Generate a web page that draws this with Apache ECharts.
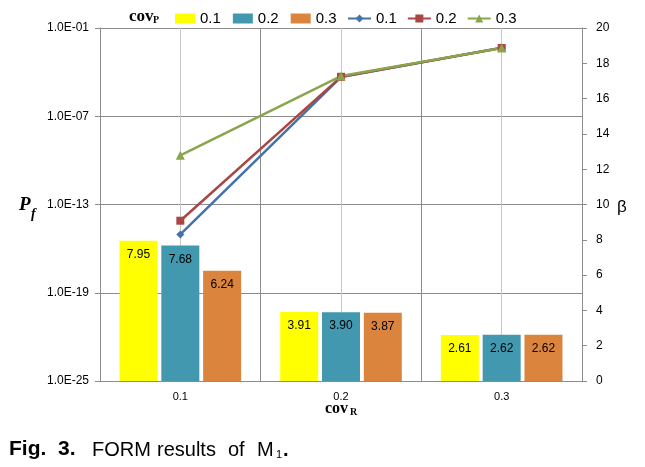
<!DOCTYPE html>
<html><head><meta charset="utf-8">
<script src="https://cdn.jsdelivr.net/npm/echarts@6/dist/echarts.min.js"></script>
<style>html,body{margin:0;padding:0;background:#fff}#c{width:645px;height:467px}</style>
</head><body><div id="c"></div>
<script>
// ---- data ----
const categories = ['0.1', '0.2', '0.3'];          // cov_R
const covPNames = ['0.1', '0.2', '0.3'];           // cov_P
const beta_covP01 = [7.95, 3.91, 2.61];
const beta_covP02 = [7.68, 3.90, 2.62];
const beta_covP03 = [6.24, 3.87, 2.62];
const pf_covP01 = [9.3e-16, 4.6e-5, 4.5e-3];
const pf_covP02 = [7.9e-15, 4.8e-5, 4.4e-3];
const pf_covP03 = [2.2e-10, 5.4e-5, 4.4e-3];
const pfAxisMinExp = -25;   // 1.0E-25
const pfAxisMaxExp = -1;    // 1.0E-01
const pfAxisStepExp = 6;    // one label every 6 decades
const betaAxisMax = 20;
const betaAxisStep = 2;

const barColors = ['#FFFF00', '#4198AF', '#DB843D'];
const lineColors = ['#4572A7', '#AA4643', '#89A54E'];
const lineSymbols = ['diamond', 'rect', 'triangle'];
const lineSymbolSizes = [8, 8, 9];
const betas = [beta_covP01, beta_covP02, beta_covP03];
const pfs = [pf_covP01, pf_covP02, pf_covP03];

const font = "'Liberation Sans', Arial, sans-serif";
const serif = "'Liberation Serif', 'DejaVu Serif', serif";
const axisGrey = '#8c8c8c';

// decade axis: value = log10(Pf) - minExp  (0 .. 24)
const toAxis = v => Math.log10(v) - pfAxisMinExp;
function expFmt(av) {
  const e = Math.round(av + pfAxisMinExp);
  const a = Math.abs(e);
  return '1.0E' + (e < 0 ? '-' : '+') + (a < 10 ? '0' + a : a);
}

const chart = echarts.init(document.getElementById('c'), null, {renderer: 'canvas'});

const series = [];
// light vertical lines at category centres (behind bars)
series.push({
  type: 'line', name: '__centre', xAxisIndex: 0, yAxisIndex: 1, data: [], silent: true,
  markLine: {
    silent: true, symbol: 'none', z: 1, animation: false,
    label: {show: false},
    lineStyle: {color: '#c9c9c9', type: 'solid', width: 1},
    data: categories.map(c => ({xAxis: c}))
  }
});
covPNames.forEach((n, i) => {
  series.push({
    type: 'bar', name: n, xAxisIndex: 0, yAxisIndex: 1, z: 2,
    data: betas[i], barWidth: 38, barGap: '10%',
    itemStyle: {color: barColors[i]},
    label: {
      show: true, position: 'insideTop', distance: 8, color: '#000',
      fontFamily: font, fontSize: 12,
      formatter: p => p.value.toFixed(2)
    }
  });
});
covPNames.forEach((n, i) => {
  series.push({
    type: 'line', name: 'L' + n, xAxisIndex: 0, yAxisIndex: 0, z: 4,
    data: pfs[i].map(toAxis), symbol: lineSymbols[i], symbolSize: lineSymbolSizes[i],
    showSymbol: true,
    lineStyle: {color: lineColors[i], width: 2.5},
    itemStyle: {color: lineColors[i]}
  });
});

chart.setOption({
  animation: false,
  backgroundColor: '#fff',
  grid: {left: 100, right: 63, top: 28, bottom: 86},
  legend: [
    {
      data: covPNames, left: 175, top: 11, padding: 0, itemWidth: 20, itemHeight: 10, itemGap: 12,
      icon: 'rect', textStyle: {fontFamily: font, fontSize: 15, color: '#000'}
    },
    {
      data: covPNames.map(n => 'L' + n), left: 347, top: 11, padding: 0, itemWidth: 23, itemHeight: 10, itemGap: 10,
      formatter: name => name.replace(/^L/, ''),
      textStyle: {fontFamily: font, fontSize: 15, color: '#000'}
    }
  ],
  xAxis: [{
    type: 'category', data: categories, boundaryGap: true,
    axisLine: {lineStyle: {color: axisGrey, width: 1}},
    axisTick: {show: false},
    axisLabel: {color: '#000', fontFamily: font, fontSize: 11, margin: 10},
    splitLine: {show: true, lineStyle: {color: axisGrey, width: 1}}
  }],
  yAxis: [
    {
      type: 'value', min: 0, max: pfAxisMaxExp - pfAxisMinExp, interval: pfAxisStepExp, position: 'left',
      axisLine: {show: true, lineStyle: {color: axisGrey}},
      axisTick: {show: true, length: 5, lineStyle: {color: axisGrey}},
      axisLabel: {color: '#000', fontFamily: font, fontSize: 12, margin: 11, formatter: expFmt},
      splitLine: {show: true, lineStyle: {color: axisGrey, width: 1}}
    },
    {
      type: 'value', min: 0, max: betaAxisMax, interval: betaAxisStep, position: 'right',
      axisLine: {show: true, lineStyle: {color: axisGrey}},
      axisTick: {show: true, length: 5, lineStyle: {color: axisGrey}},
      axisLabel: {color: '#000', fontFamily: font, fontSize: 12, margin: 14},
      splitLine: {show: false}
    }
  ],
  graphic: [
    {type: 'text', left: 129, top: 8, style: {text: 'cov', font: 'bold 17px ' + serif, fill: '#000'}},
    {type: 'text', left: 153, top: 15, style: {text: 'P', font: 'bold 10px ' + serif, fill: '#000'}},
    {type: 'text', left: 19, top: 196, style: {text: 'P', font: 'italic bold 19px ' + serif, fill: '#000'}},
    {type: 'text', left: 31, top: 207, style: {text: 'f', font: 'italic bold 14px ' + serif, fill: '#000'}},
    {type: 'text', left: 617, top: 199, style: {text: 'β', font: '17px ' + font, fill: '#000'}},
    {type: 'text', left: 325, top: 401, style: {text: 'cov', font: 'bold 16px ' + serif, fill: '#000'}},
    {type: 'text', left: 350, top: 407, style: {text: 'R', font: 'bold 10px ' + serif, fill: '#000'}},
    {type: 'text', left: 9, top: 439, style: {text: 'Fig.', font: 'bold 21px ' + font, fill: '#000'}},
    {type: 'text', left: 58, top: 439, style: {text: '3.', font: 'bold 21px ' + font, fill: '#000'}},
    {type: 'text', left: 92, top: 440, style: {text: 'FORM', font: '20px ' + font, fill: '#000'}},
    {type: 'text', left: 157, top: 440, style: {text: 'results', font: '20px ' + font, fill: '#000'}},
    {type: 'text', left: 228, top: 440, style: {text: 'of', font: '20px ' + font, fill: '#000'}},
    {type: 'text', left: 257, top: 440, style: {text: 'M', font: '20px ' + font, fill: '#000'}},
    {type: 'text', left: 276, top: 449, style: {text: '1', font: '11px ' + font, fill: '#000'}},
    {type: 'text', left: 283, top: 440, style: {text: '.', font: 'bold 20px ' + font, fill: '#000'}}
  ],
  series: series
});
</script>
</body></html>
